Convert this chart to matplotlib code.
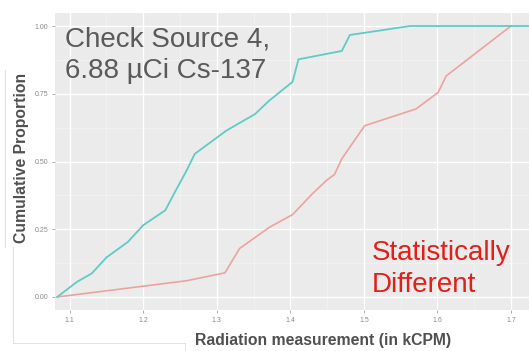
import matplotlib
matplotlib.use("Agg")
import matplotlib.pyplot as plt
from matplotlib.lines import Line2D

# cumulative proportion curves
teal_x = [1.083, 1.11, 1.13, 1.15, 1.179, 1.20, 1.23, 1.243, 1.259, 1.27, 1.313,
          1.352, 1.371, 1.403, 1.411, 1.47, 1.481, 1.563, 1.73]
teal_y = [0.0, 0.056, 0.087, 0.146, 0.203, 0.265, 0.32, 0.387, 0.467, 0.528, 0.614,
          0.675, 0.724, 0.794, 0.877, 0.908, 0.967, 1.0, 1.0]

red_x = [1.083, 1.259, 1.311, 1.331, 1.372, 1.403, 1.43, 1.449, 1.46, 1.47, 1.501,
         1.571, 1.601, 1.612, 1.70]
red_y = [0.0, 0.06, 0.089, 0.179, 0.258, 0.304, 0.381, 0.43, 0.452, 0.51, 0.632,
         0.694, 0.755, 0.816, 1.0]

x_ticks = [1.1, 1.2, 1.3, 1.4, 1.5, 1.6, 1.7]
y_ticks = [0.0, 0.25, 0.5, 0.75, 1.0]
y_ticklabels = ["0.00", "0.25", "0.50", "0.75", "1.00"]

plt.rcParams["font.family"] = ["Liberation Sans", "DejaVu Sans"]

fig = plt.figure(figsize=(5.29, 3.51), dpi=100)
ax = fig.add_axes([55 / 529, 41 / 351, 474 / 529, 297 / 351])
ax.set_facecolor("#EBEBEB")

# ggplot-ish grid
for x in [1.15, 1.25, 1.35, 1.45, 1.55, 1.65]:
    ax.axvline(x, color="#F5F5F5", lw=0.5, zorder=0)
for y in [0.125, 0.375, 0.625, 0.875]:
    ax.axhline(y, color="#F5F5F5", lw=0.5, zorder=0)
for x in x_ticks:
    ax.axvline(x, color="white", lw=1.0, zorder=0)
for y in y_ticks:
    ax.axhline(y, color="white", lw=1.0, zorder=0)

ax.plot(red_x, red_y, color="#EDA39D", lw=1.2, zorder=2)
ax.plot(teal_x, teal_y, color="#5FCBC7", lw=1.3, zorder=3)

ax.set_xlim(1.08, 1.7245)
ax.set_ylim(-0.048, 1.048)
ax.set_xticks(x_ticks)
ax.set_xticklabels([str(v) for v in x_ticks])
ax.set_yticks(y_ticks)
ax.set_yticklabels(y_ticklabels)
ax.tick_params(labelsize=5, colors="#A0A0A0", labelcolor="#8A8A8A", length=2, width=0.6, pad=3)
for s in ax.spines.values():
    s.set_visible(False)

fig.text(323 / 529, 1 - 340 / 351, "Radiation measurement (in kCPM)", ha="center", va="center",
         fontsize=11.3, color="#505050", fontweight="bold")
fig.text(22 / 529, 1 - 158 / 351, "Cumulative Proportion", ha="center", va="center",
         rotation=90, fontsize=11.3, color="#505050", fontweight="bold")

ax.text(65 / 529, 1 - 26 / 351, "Check Source 4,\n6.88 µCi Cs-137", transform=fig.transFigure,
        ha="left", va="top", fontsize=20, color="#5A5A5A", linespacing=1.3)
ax.text(372 / 529, 1 - 240 / 351, "Statistically\nDifferent", transform=fig.transFigure,
        ha="left", va="top", fontsize=20, color="#E0201A", linespacing=1.3)

# faint slide frame lines from the screenshot
frame = "#E2E2E2"
fig.add_artist(Line2D([5 / 529, 5 / 529], [1 - 70 / 351, 1 - 247 / 351], color=frame, lw=0.7))
fig.add_artist(Line2D([13 / 529, 13 / 529], [1 - 247 / 351, 1 - 343 / 351], color=frame, lw=0.7))
fig.add_artist(Line2D([13 / 529, 185 / 529], [1 - 343 / 351, 1 - 343 / 351], color=frame, lw=0.7))
fig.add_artist(Line2D([185 / 529, 185 / 529], [1 - 343 / 351, 1.0 / 351], color=frame, lw=0.7))

fig.savefig("out.png", dpi=100)
